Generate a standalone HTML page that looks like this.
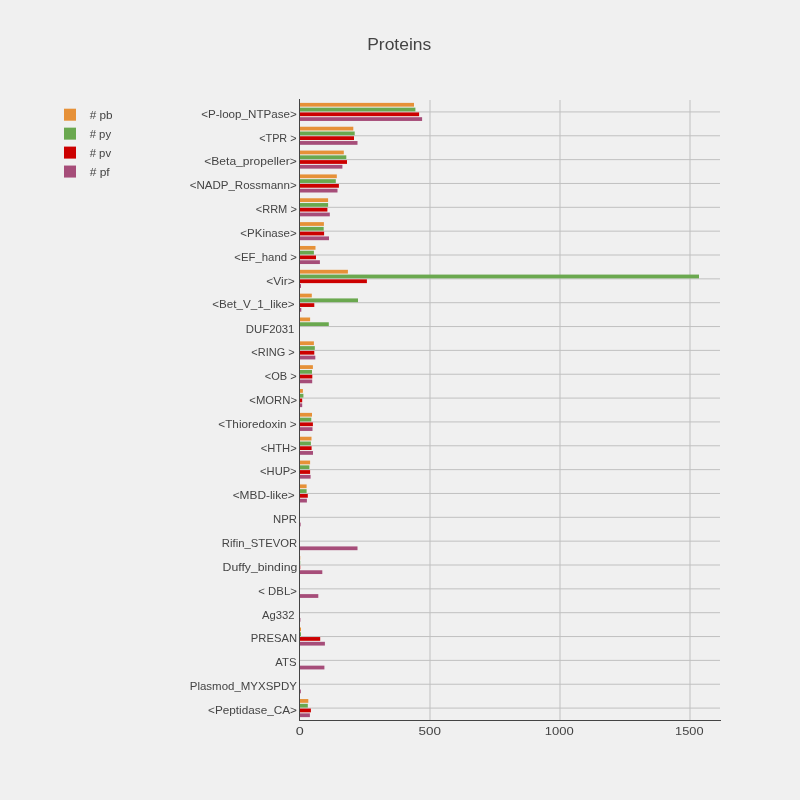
<!DOCTYPE html>
<html><head><meta charset="utf-8"><style>
html,body{margin:0;padding:0;background:#f0f0f0;}
svg{display:block;will-change:transform;}
text{font-family:"Liberation Sans",sans-serif;fill:#444;}
</style></head><body>
<svg width="800" height="800" viewBox="0 0 800 800">
<rect x="0" y="0" width="800" height="800" fill="#f0f0f0"/>
<line x1="430" y1="100" x2="430" y2="720" stroke="#c0c0c0" stroke-width="1"/>
<line x1="560" y1="100" x2="560" y2="720" stroke="#c0c0c0" stroke-width="1"/>
<line x1="690" y1="100" x2="690" y2="720" stroke="#c0c0c0" stroke-width="1"/>
<line x1="300" y1="111.92" x2="720" y2="111.92" stroke="#c0c0c0" stroke-width="1"/>
<line x1="300" y1="135.77" x2="720" y2="135.77" stroke="#c0c0c0" stroke-width="1"/>
<line x1="300" y1="159.62" x2="720" y2="159.62" stroke="#c0c0c0" stroke-width="1"/>
<line x1="300" y1="183.46" x2="720" y2="183.46" stroke="#c0c0c0" stroke-width="1"/>
<line x1="300" y1="207.31" x2="720" y2="207.31" stroke="#c0c0c0" stroke-width="1"/>
<line x1="300" y1="231.15" x2="720" y2="231.15" stroke="#c0c0c0" stroke-width="1"/>
<line x1="300" y1="255.00" x2="720" y2="255.00" stroke="#c0c0c0" stroke-width="1"/>
<line x1="300" y1="278.85" x2="720" y2="278.85" stroke="#c0c0c0" stroke-width="1"/>
<line x1="300" y1="302.69" x2="720" y2="302.69" stroke="#c0c0c0" stroke-width="1"/>
<line x1="300" y1="326.54" x2="720" y2="326.54" stroke="#c0c0c0" stroke-width="1"/>
<line x1="300" y1="350.38" x2="720" y2="350.38" stroke="#c0c0c0" stroke-width="1"/>
<line x1="300" y1="374.23" x2="720" y2="374.23" stroke="#c0c0c0" stroke-width="1"/>
<line x1="300" y1="398.08" x2="720" y2="398.08" stroke="#c0c0c0" stroke-width="1"/>
<line x1="300" y1="421.92" x2="720" y2="421.92" stroke="#c0c0c0" stroke-width="1"/>
<line x1="300" y1="445.77" x2="720" y2="445.77" stroke="#c0c0c0" stroke-width="1"/>
<line x1="300" y1="469.62" x2="720" y2="469.62" stroke="#c0c0c0" stroke-width="1"/>
<line x1="300" y1="493.46" x2="720" y2="493.46" stroke="#c0c0c0" stroke-width="1"/>
<line x1="300" y1="517.31" x2="720" y2="517.31" stroke="#c0c0c0" stroke-width="1"/>
<line x1="300" y1="541.15" x2="720" y2="541.15" stroke="#c0c0c0" stroke-width="1"/>
<line x1="300" y1="565.00" x2="720" y2="565.00" stroke="#c0c0c0" stroke-width="1"/>
<line x1="300" y1="588.85" x2="720" y2="588.85" stroke="#c0c0c0" stroke-width="1"/>
<line x1="300" y1="612.69" x2="720" y2="612.69" stroke="#c0c0c0" stroke-width="1"/>
<line x1="300" y1="636.54" x2="720" y2="636.54" stroke="#c0c0c0" stroke-width="1"/>
<line x1="300" y1="660.38" x2="720" y2="660.38" stroke="#c0c0c0" stroke-width="1"/>
<line x1="300" y1="684.23" x2="720" y2="684.23" stroke="#c0c0c0" stroke-width="1"/>
<line x1="300" y1="708.08" x2="720" y2="708.08" stroke="#c0c0c0" stroke-width="1"/>
<rect x="299.5" y="102.88" width="114.50" height="3.77" fill="#e69138"/>
<rect x="299.5" y="107.65" width="115.90" height="3.77" fill="#6aa84f"/>
<rect x="299.5" y="112.42" width="119.60" height="3.77" fill="#cc0000"/>
<rect x="299.5" y="117.19" width="122.60" height="3.77" fill="#a64d79"/>
<rect x="299.5" y="126.73" width="53.80" height="3.77" fill="#e69138"/>
<rect x="299.5" y="131.50" width="55.20" height="3.77" fill="#6aa84f"/>
<rect x="299.5" y="136.27" width="54.50" height="3.77" fill="#cc0000"/>
<rect x="299.5" y="141.04" width="58.00" height="3.77" fill="#a64d79"/>
<rect x="299.5" y="150.58" width="44.30" height="3.77" fill="#e69138"/>
<rect x="299.5" y="155.35" width="46.80" height="3.77" fill="#6aa84f"/>
<rect x="299.5" y="160.12" width="47.50" height="3.77" fill="#cc0000"/>
<rect x="299.5" y="164.88" width="42.90" height="3.77" fill="#a64d79"/>
<rect x="299.5" y="174.42" width="37.30" height="3.77" fill="#e69138"/>
<rect x="299.5" y="179.19" width="36.30" height="3.77" fill="#6aa84f"/>
<rect x="299.5" y="183.96" width="39.40" height="3.77" fill="#cc0000"/>
<rect x="299.5" y="188.73" width="38.00" height="3.77" fill="#a64d79"/>
<rect x="299.5" y="198.27" width="28.60" height="3.77" fill="#e69138"/>
<rect x="299.5" y="203.04" width="28.60" height="3.77" fill="#6aa84f"/>
<rect x="299.5" y="207.81" width="27.90" height="3.77" fill="#cc0000"/>
<rect x="299.5" y="212.58" width="30.30" height="3.77" fill="#a64d79"/>
<rect x="299.5" y="222.12" width="24.40" height="3.77" fill="#e69138"/>
<rect x="299.5" y="226.88" width="24.20" height="3.77" fill="#6aa84f"/>
<rect x="299.5" y="231.65" width="24.60" height="3.77" fill="#cc0000"/>
<rect x="299.5" y="236.42" width="29.50" height="3.77" fill="#a64d79"/>
<rect x="299.5" y="245.96" width="16.00" height="3.77" fill="#e69138"/>
<rect x="299.5" y="250.73" width="14.40" height="3.77" fill="#6aa84f"/>
<rect x="299.5" y="255.50" width="16.50" height="3.77" fill="#cc0000"/>
<rect x="299.5" y="260.27" width="20.40" height="3.77" fill="#a64d79"/>
<rect x="299.5" y="269.81" width="48.40" height="3.77" fill="#e69138"/>
<rect x="299.5" y="274.58" width="399.50" height="3.77" fill="#6aa84f"/>
<rect x="299.5" y="279.35" width="67.40" height="3.77" fill="#cc0000"/>
<rect x="299.5" y="284.12" width="1.50" height="3.77" fill="#a64d79"/>
<rect x="299.5" y="293.65" width="12.30" height="3.77" fill="#e69138"/>
<rect x="299.5" y="298.42" width="58.50" height="3.77" fill="#6aa84f"/>
<rect x="299.5" y="303.19" width="14.80" height="3.77" fill="#cc0000"/>
<rect x="299.5" y="307.96" width="1.80" height="3.77" fill="#a64d79"/>
<rect x="299.5" y="317.50" width="10.60" height="3.77" fill="#e69138"/>
<rect x="299.5" y="322.27" width="29.30" height="3.77" fill="#6aa84f"/>
<rect x="299.5" y="341.35" width="14.40" height="3.77" fill="#e69138"/>
<rect x="299.5" y="346.12" width="15.30" height="3.77" fill="#6aa84f"/>
<rect x="299.5" y="350.88" width="14.80" height="3.77" fill="#cc0000"/>
<rect x="299.5" y="355.65" width="15.80" height="3.77" fill="#a64d79"/>
<rect x="299.5" y="365.19" width="13.40" height="3.77" fill="#e69138"/>
<rect x="299.5" y="369.96" width="12.50" height="3.77" fill="#6aa84f"/>
<rect x="299.5" y="374.73" width="12.80" height="3.77" fill="#cc0000"/>
<rect x="299.5" y="379.50" width="12.70" height="3.77" fill="#a64d79"/>
<rect x="299.5" y="389.04" width="3.40" height="3.77" fill="#e69138"/>
<rect x="299.5" y="393.81" width="3.90" height="3.77" fill="#6aa84f"/>
<rect x="299.5" y="398.58" width="2.70" height="3.77" fill="#cc0000"/>
<rect x="299.5" y="403.35" width="2.70" height="3.77" fill="#a64d79"/>
<rect x="299.5" y="412.88" width="12.50" height="3.77" fill="#e69138"/>
<rect x="299.5" y="417.65" width="11.80" height="3.77" fill="#6aa84f"/>
<rect x="299.5" y="422.42" width="13.40" height="3.77" fill="#cc0000"/>
<rect x="299.5" y="427.19" width="13.00" height="3.77" fill="#a64d79"/>
<rect x="299.5" y="436.73" width="12.00" height="3.77" fill="#e69138"/>
<rect x="299.5" y="441.50" width="11.40" height="3.77" fill="#6aa84f"/>
<rect x="299.5" y="446.27" width="12.10" height="3.77" fill="#cc0000"/>
<rect x="299.5" y="451.04" width="13.50" height="3.77" fill="#a64d79"/>
<rect x="299.5" y="460.58" width="10.60" height="3.77" fill="#e69138"/>
<rect x="299.5" y="465.35" width="9.90" height="3.77" fill="#6aa84f"/>
<rect x="299.5" y="470.12" width="10.60" height="3.77" fill="#cc0000"/>
<rect x="299.5" y="474.88" width="11.10" height="3.77" fill="#a64d79"/>
<rect x="299.5" y="484.42" width="7.10" height="3.77" fill="#e69138"/>
<rect x="299.5" y="489.19" width="7.10" height="3.77" fill="#6aa84f"/>
<rect x="299.5" y="493.96" width="8.30" height="3.77" fill="#cc0000"/>
<rect x="299.5" y="498.73" width="7.40" height="3.77" fill="#a64d79"/>
<rect x="299.5" y="522.58" width="1.10" height="3.77" fill="#a64d79"/>
<rect x="299.5" y="546.42" width="58.00" height="3.77" fill="#a64d79"/>
<rect x="299.5" y="555.96" width="0.75" height="3.77" fill="#e69138"/>
<rect x="299.5" y="560.73" width="0.75" height="3.77" fill="#6aa84f"/>
<rect x="299.5" y="565.50" width="0.75" height="3.77" fill="#cc0000"/>
<rect x="299.5" y="570.27" width="22.80" height="3.77" fill="#a64d79"/>
<rect x="299.5" y="594.12" width="18.80" height="3.77" fill="#a64d79"/>
<rect x="299.5" y="617.96" width="0.90" height="3.77" fill="#a64d79"/>
<rect x="299.5" y="627.50" width="1.50" height="3.77" fill="#e69138"/>
<rect x="299.5" y="632.27" width="1.50" height="3.77" fill="#6aa84f"/>
<rect x="299.5" y="637.04" width="20.70" height="3.77" fill="#cc0000"/>
<rect x="299.5" y="641.81" width="25.40" height="3.77" fill="#a64d79"/>
<rect x="299.5" y="665.65" width="24.90" height="3.77" fill="#a64d79"/>
<rect x="299.5" y="689.50" width="1.30" height="3.77" fill="#a64d79"/>
<rect x="299.5" y="699.04" width="8.80" height="3.77" fill="#e69138"/>
<rect x="299.5" y="703.81" width="8.30" height="3.77" fill="#6aa84f"/>
<rect x="299.5" y="708.58" width="11.40" height="3.77" fill="#cc0000"/>
<rect x="299.5" y="713.35" width="10.40" height="3.77" fill="#a64d79"/>
<line x1="299.5" y1="99" x2="299.5" y2="721" stroke="#444" stroke-width="1"/>
<line x1="299" y1="720.5" x2="721" y2="720.5" stroke="#444" stroke-width="1"/>
<text x="201.15" y="117.72" font-size="11.2" textLength="95.63" lengthAdjust="spacingAndGlyphs">&lt;P-loop_NTPase&gt;</text>
<text x="259.22" y="141.57" font-size="11.2" textLength="37.28" lengthAdjust="spacingAndGlyphs">&lt;TPR &gt;</text>
<text x="204.24" y="165.42" font-size="11.2" textLength="92.54" lengthAdjust="spacingAndGlyphs">&lt;Beta_propeller&gt;</text>
<text x="189.65" y="189.26" font-size="11.2" textLength="107.06" lengthAdjust="spacingAndGlyphs">&lt;NADP_Rossmann&gt;</text>
<text x="255.72" y="213.11" font-size="11.2" textLength="41.12" lengthAdjust="spacingAndGlyphs">&lt;RRM &gt;</text>
<text x="240.28" y="236.95" font-size="11.2" textLength="56.45" lengthAdjust="spacingAndGlyphs">&lt;PKinase&gt;</text>
<text x="234.31" y="260.80" font-size="11.2" textLength="62.57" lengthAdjust="spacingAndGlyphs">&lt;EF_hand &gt;</text>
<text x="266.32" y="284.65" font-size="11.2" textLength="28.36" lengthAdjust="spacingAndGlyphs">&lt;Vir&gt;</text>
<text x="212.28" y="308.49" font-size="11.2" textLength="82.34" lengthAdjust="spacingAndGlyphs">&lt;Bet_V_1_like&gt;</text>
<text x="245.79" y="333.14" font-size="11.2" textLength="48.65" lengthAdjust="spacingAndGlyphs">DUF2031</text>
<text x="251.36" y="356.18" font-size="11.2" textLength="43.36" lengthAdjust="spacingAndGlyphs">&lt;RING &gt;</text>
<text x="264.72" y="380.03" font-size="11.2" textLength="31.91" lengthAdjust="spacingAndGlyphs">&lt;OB &gt;</text>
<text x="249.32" y="403.88" font-size="11.2" textLength="47.67" lengthAdjust="spacingAndGlyphs">&lt;MORN&gt;</text>
<text x="218.35" y="427.72" font-size="11.2" textLength="78.33" lengthAdjust="spacingAndGlyphs">&lt;Thioredoxin &gt;</text>
<text x="260.73" y="451.57" font-size="11.2" textLength="35.96" lengthAdjust="spacingAndGlyphs">&lt;HTH&gt;</text>
<text x="260.08" y="475.42" font-size="11.2" textLength="36.53" lengthAdjust="spacingAndGlyphs">&lt;HUP&gt;</text>
<text x="232.65" y="499.26" font-size="11.2" textLength="62.12" lengthAdjust="spacingAndGlyphs">&lt;MBD-like&gt;</text>
<text x="273.00" y="523.11" font-size="11.2" textLength="23.92" lengthAdjust="spacingAndGlyphs">NPR</text>
<text x="221.86" y="546.95" font-size="11.2" textLength="75.39" lengthAdjust="spacingAndGlyphs">Rifin_STEVOR</text>
<text x="222.54" y="570.80" font-size="11.2" textLength="74.77" lengthAdjust="spacingAndGlyphs">Duffy_binding</text>
<text x="258.32" y="594.65" font-size="11.2" textLength="38.53" lengthAdjust="spacingAndGlyphs">&lt; DBL&gt;</text>
<text x="262.04" y="619.29" font-size="11.2" textLength="32.62" lengthAdjust="spacingAndGlyphs">Ag332</text>
<text x="250.88" y="642.34" font-size="11.2" textLength="46.20" lengthAdjust="spacingAndGlyphs">PRESAN</text>
<text x="275.38" y="666.18" font-size="11.2" textLength="21.20" lengthAdjust="spacingAndGlyphs">ATS</text>
<text x="189.74" y="690.03" font-size="11.2" textLength="107.24" lengthAdjust="spacingAndGlyphs">Plasmod_MYXSPDY</text>
<text x="208.05" y="713.88" font-size="11.2" textLength="88.90" lengthAdjust="spacingAndGlyphs">&lt;Peptidase_CA&gt;</text>
<text x="367.19" y="49.70" font-size="16" textLength="64.05" lengthAdjust="spacingAndGlyphs">Proteins</text>
<text x="295.71" y="735.00" font-size="11.2" textLength="8.03" lengthAdjust="spacingAndGlyphs">0</text>
<text x="418.46" y="735.00" font-size="11.2" textLength="22.47" lengthAdjust="spacingAndGlyphs">500</text>
<text x="544.69" y="735.00" font-size="11.2" textLength="28.95" lengthAdjust="spacingAndGlyphs">1000</text>
<text x="675.11" y="735.00" font-size="11.2" textLength="28.38" lengthAdjust="spacingAndGlyphs">1500</text>
<text x="89.66" y="119.00" font-size="11" textLength="22.90" lengthAdjust="spacingAndGlyphs"># pb</text>
<text x="89.67" y="138.00" font-size="11" textLength="21.43" lengthAdjust="spacingAndGlyphs"># py</text>
<text x="89.67" y="157.00" font-size="11" textLength="21.41" lengthAdjust="spacingAndGlyphs"># pv</text>
<text x="89.66" y="176.00" font-size="11" textLength="20.05" lengthAdjust="spacingAndGlyphs"># pf</text>
<rect x="64" y="108.70" width="12" height="12" fill="#e69138"/>
<rect x="64" y="127.65" width="12" height="12" fill="#6aa84f"/>
<rect x="64" y="146.60" width="12" height="12" fill="#cc0000"/>
<rect x="64" y="165.55" width="12" height="12" fill="#a64d79"/>
</svg>
</body></html>
